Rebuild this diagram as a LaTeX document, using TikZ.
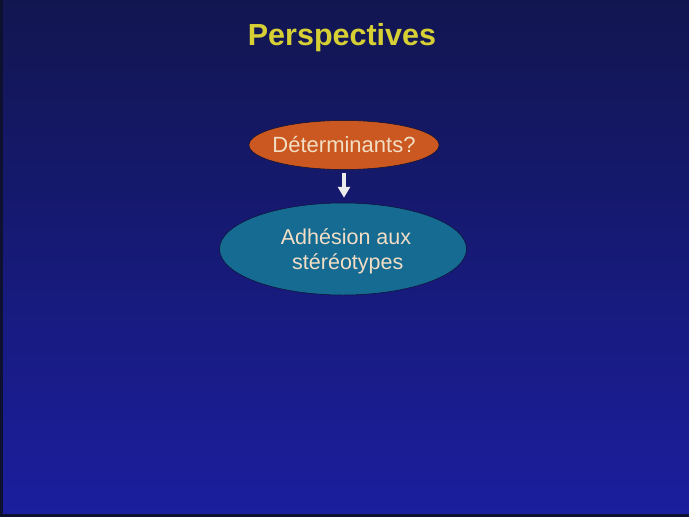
\documentclass[tikz,border=0pt]{standalone}
\usepackage{fontspec}
\setmainfont{Liberation Sans}
\usepackage{xcolor}
\usetikzlibrary{shapes.geometric, arrows.meta, positioning}
\definecolor{bgtop}{HTML}{121650}
\definecolor{bgbot}{HTML}{1B1E9E}
\definecolor{titleyel}{HTML}{D6D034}
\definecolor{cream}{HTML}{F2DEC4}
\definecolor{rust}{HTML}{CB5820}
\definecolor{petrol}{HTML}{166B93}
\definecolor{edge}{HTML}{0E1030}
\tikzset{
  bubble/.style    = {ellipse, draw=edge, line width=0.5pt, align=center, text=cream, inner sep=0pt},
  bubblerust/.style = {bubble, fill=rust, inner xsep=-8pt, minimum width=190pt, minimum height=49pt, font=\fontsize{22}{26}\selectfont},
  bubbleblue/.style = {bubble, fill=petrol, minimum width=247pt, minimum height=92pt, font=\fontsize{21.5}{25}\selectfont},
  flow/.style      = {-{Triangle[length=11pt, width=12pt]}, draw=white!85!gray, line width=4.5pt},
  heading/.style   = {font=\fontsize{30.5}{34}\selectfont\bfseries, text=titleyel},
}
\begin{document}
\begin{tikzpicture}[x=1pt, y=-1pt]
  % slide background
  \shade[top color=bgtop, bottom color=bgbot] (0,0) rectangle (689,517);
  \fill[edge] (0,0) rectangle (3,517);
  \fill[edge] (0,514) rectangle (689,517);
  \useasboundingbox (0,0) rectangle (689,517);

  \node[heading] (title) at (342,38) {Perspectives};

  \node[bubblerust] (det) at (344,145) {Déterminants?};
  \node[bubbleblue] (adh) at (343,249) {};
  \node[font=\fontsize{21.5}{25}\selectfont, text=cream, align=center] (adhtxt) at (346,251) {Adhésion aux\\ \,stéréotypes};

  \draw[flow] ([yshift=-3pt]det.south) -- ([yshift=5pt]det.south |- adh.north);
\end{tikzpicture}
\end{document}
